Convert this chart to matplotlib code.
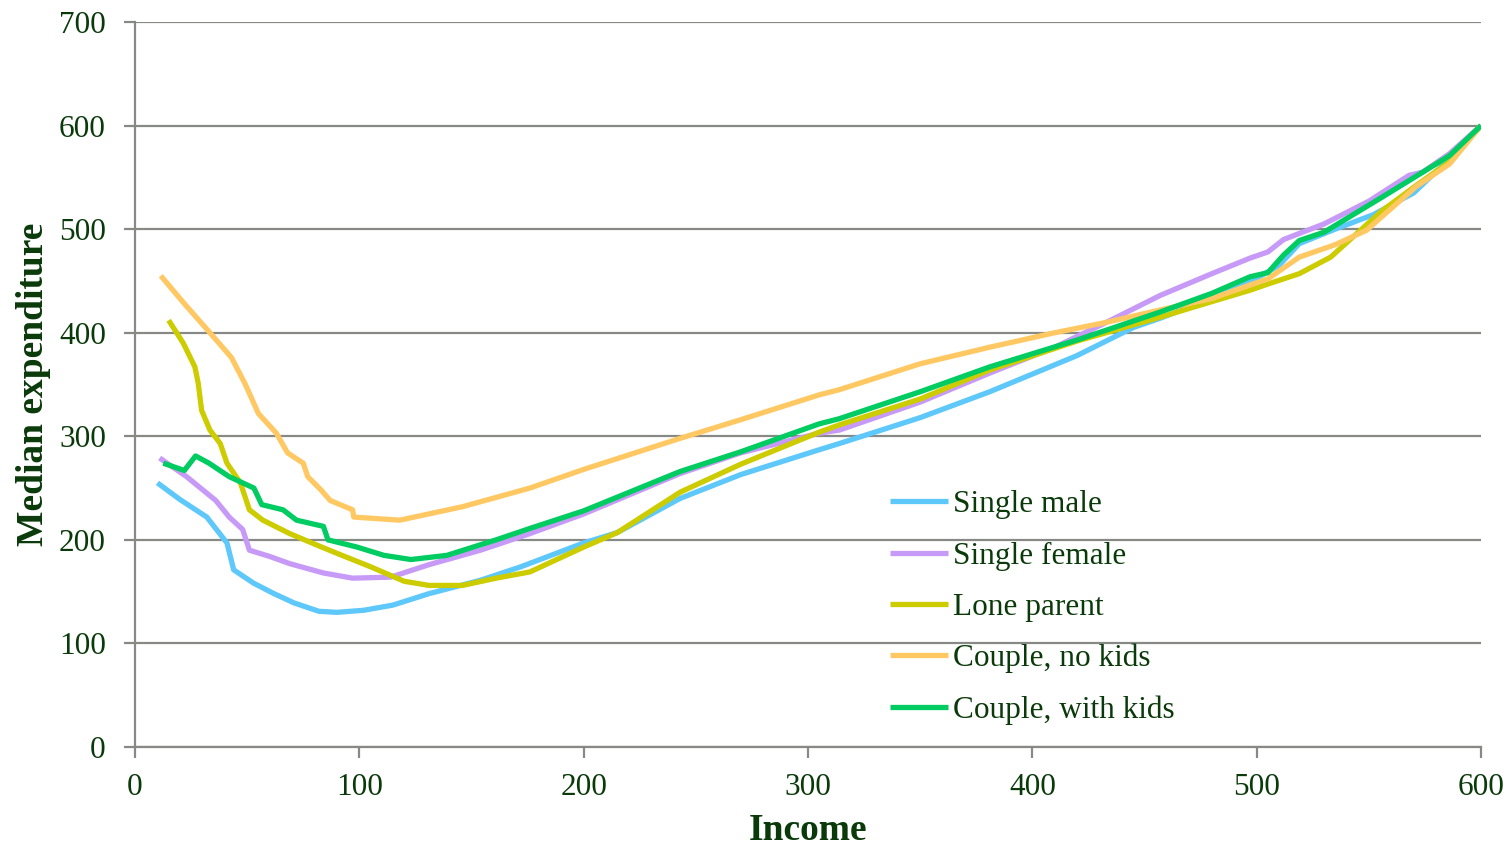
import matplotlib.pyplot as plt

plt.rcParams['font.family'] = ['Liberation Serif', 'DejaVu Serif']

text_col = '#0A3A0A'
grid_col = '#878A84'

# median weekly expenditure by income, per household type
male_x = [10, 20, 32, 41, 44, 53, 62, 71, 82, 90, 102, 115, 131, 154, 172, 200, 215, 243, 270, 305, 314, 350, 381, 420, 445, 457, 480, 497, 510, 519, 535, 552, 570, 586, 600]
male_y = [255, 239, 222, 197, 171, 158, 148, 139, 131, 130, 132, 137, 148, 161, 174, 197, 207, 240, 263, 287, 293, 318, 343, 378, 405, 414, 433, 449, 465, 486, 500, 514, 535, 568, 600]

female_x = [11, 23, 36, 42, 48, 51, 60, 69, 84, 97, 114, 131, 154, 176, 200, 243, 270, 305, 314, 350, 381, 410, 433, 457, 480, 497, 505, 512, 530, 550, 568, 574, 586, 600]
female_y = [279, 261, 238, 222, 210, 190, 184, 177, 168, 163, 164, 176, 190, 206, 225, 264, 284, 303, 306, 333, 361, 386, 410, 436, 457, 472, 478, 490, 505, 527, 552, 555, 573, 600]

lone_x = [15, 21.5, 26.7, 28.2, 29.7, 33.4, 38, 41, 47, 51, 57, 69, 81, 90, 105, 120, 131, 146, 161, 176, 200, 215, 243, 270, 305, 314, 350, 381, 420, 457, 480, 497, 505, 519, 533, 556, 571, 586, 600]
lone_y = [412, 390, 367, 351, 325, 306, 293, 274, 255, 229, 219, 206, 195, 187, 174, 160, 156, 156, 163, 169, 193, 207, 246, 273, 304, 311, 336, 364, 392, 415, 430, 441, 447, 457, 473, 518, 542, 565, 600]

nokids_x = [11.5, 22, 33, 43, 49, 55, 63, 68, 75, 77, 83, 87, 97, 97.5, 118, 146, 176, 200, 243, 270, 305, 314, 350, 381, 410, 433, 457, 480, 497, 505, 519, 535, 549, 571, 586, 600]
nokids_y = [455, 428, 401, 376, 351, 322, 303, 284, 274, 261, 248, 238, 229, 222, 219, 232, 250, 268, 298, 316, 340, 345, 370, 386, 400, 410, 422, 433, 446, 452, 473, 485, 499, 541, 563, 600]

kids_x = [12.6, 22, 27, 33, 42, 53, 56.5, 66, 72, 84, 86, 99, 111, 123, 139, 161, 176, 200, 243, 270, 305, 314, 350, 381, 420, 457, 480, 497, 505, 512, 519, 530, 556, 586, 600]
kids_y = [274, 267, 281, 274, 261, 250, 234, 229, 219, 213, 200, 193, 185, 181, 185, 200, 211, 228, 266, 285, 312, 317, 343, 367, 393, 420, 438, 454, 458, 475, 489, 497, 531, 571, 600]

series = [
    ('Single male', male_x, male_y, '#5EC8FA'),
    ('Single female', female_x, female_y, '#C79AF7'),
    ('Lone parent', lone_x, lone_y, '#CCCC00'),
    ('Couple, no kids', nokids_x, nokids_y, '#FFC862'),
    ('Couple, with kids', kids_x, kids_y, '#00CC62'),
]

fig = plt.figure(figsize=(15.1, 8.47), dpi=100)
ax = fig.add_axes([0.0894, 0.1181, 0.8914, 0.8559])

for name, xs, ys, col in series:
    ax.plot(xs, ys, color=col, lw=3.8, label=name, solid_capstyle='butt')

ax.set_xlim(0, 600)
ax.set_ylim(0, 700)
ax.set_xticks(range(0, 601, 100))
ax.set_yticks(range(0, 701, 100))
ax.yaxis.grid(True, color=grid_col, lw=1.6)
ax.set_axisbelow(True)

for s in ['top', 'right']:
    ax.spines[s].set_visible(False)
for s in ['left', 'bottom']:
    ax.spines[s].set_color(grid_col)
    ax.spines[s].set_linewidth(1.6)

ax.tick_params(axis='both', direction='out', length=8, width=1.6, color=grid_col,
               labelsize=22.5, labelcolor=text_col)
ax.tick_params(axis='y', pad=13)
ax.tick_params(axis='x', pad=11)

ax.set_xlabel('Income', fontsize=27, fontweight='bold', color=text_col, labelpad=8)
ax.set_ylabel('Median expenditure', fontsize=27, fontweight='bold', color=text_col, labelpad=6)

ax.legend(loc='upper left', bbox_to_anchor=(0.561, 0.354), frameon=False,
          fontsize=22.5, labelcolor=text_col, handlelength=1.85, handletextpad=0.15,
          labelspacing=0.71, borderaxespad=0, borderpad=0)

fig.savefig('out.png', dpi=100)
